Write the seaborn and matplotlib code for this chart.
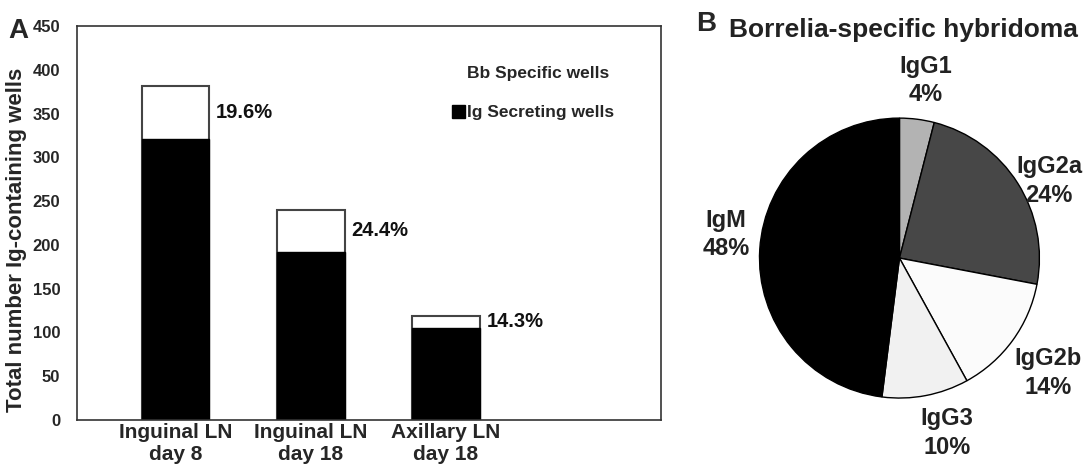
import numpy as np
import pandas as pd
import matplotlib
matplotlib.use('Agg')
import matplotlib.pyplot as plt
import matplotlib.patches as mpatches
import seaborn as sns

# Panel A data
sites = ['Inguinal LN\nday 8', 'Inguinal LN\nday 18', 'Axillary LN\nday 18']
total_wells = [382, 240, 119]
ig_wells = [321, 192, 105]
pct_labels = ['19.6%', '24.4%', '14.3%']

# Panel B data
isotypes = ['IgG1', 'IgG2a', 'IgG2b', 'IgG3', 'IgM']
isotype_pct = [4, 24, 14, 10, 48]
isotype_colors = ['#b3b3b3', '#474747', '#fbfbfb', '#f1f1f1', '#000000']

sns.set_style('white')
plt.rcParams['font.family'] = ['Liberation Sans', 'DejaVu Sans']
plt.rcParams['font.weight'] = 'bold'

df = pd.DataFrame({'site': sites, 'total': total_wells, 'ig': ig_wells})

fig = plt.figure(figsize=(10.85, 4.65), dpi=100)
ax = fig.add_axes([0.071, 0.097, 0.538, 0.847])

bw = 0.5
sns.barplot(data=df, x='site', y='total', color='white', edgecolor='#444444',
            linewidth=1.5, width=bw, saturation=1, ax=ax)
sns.barplot(data=df, x='site', y='ig', color='black', edgecolor='black',
            linewidth=1.0, width=bw, saturation=1, ax=ax)

for i, (t, g, p) in enumerate(zip(total_wells, ig_wells, pct_labels)):
    ax.text(i + bw / 2 + 0.05, (t + g) / 2, p, ha='left', va='center',
            fontsize=14.5, fontweight='bold', color='#111111')

ax.set_ylim(0, 450)
ax.set_yticks(range(0, 451, 50))
ax.set_xlim(-0.73, 3.59)
ax.set_xlabel('')
ax.set_ylabel('Total number Ig-containing wells', fontsize=16, fontweight='bold')
ax.yaxis.set_label_coords(-0.086, 0.457)
ax.tick_params(axis='both', length=0)
ax.tick_params(axis='y', labelsize=12, pad=12)
ax.tick_params(axis='x', labelsize=15, pad=2)
for lab in ax.get_xticklabels() + ax.get_yticklabels():
    lab.set_fontweight('bold')
for s in ax.spines.values():
    s.set_color('#333333')
    s.set_linewidth(1.2)

handles = [mpatches.Patch(facecolor='white', edgecolor='none', label='Bb Specific wells'),
           mpatches.Patch(facecolor='black', edgecolor='black', label='Ig Secreting wells')]
ax.legend(handles=handles, loc='upper left', bbox_to_anchor=(0.615, 0.94), frameon=False,
          prop={'size': 12.5, 'weight': 'bold'}, handlelength=0.75, handleheight=0.75,
          handletextpad=0.15, labelspacing=1.4)

fig.text(0.008, 0.933, 'A', fontsize=20, fontweight='bold', va='center')

# Panel B pie
pax = fig.add_axes([0.700, 0.144, 0.258, 0.602])
pax.pie(isotype_pct, colors=isotype_colors, startangle=90, counterclock=False,
        wedgeprops={'edgecolor': 'black', 'linewidth': 1.0})
pax.set_xlim(-1, 1)
pax.set_ylim(-1, 1)
pax.set_aspect('equal')

label_pos = {'IgG1': (0.19, 1.27), 'IgG2a': (1.07, 0.55), 'IgG2b': (1.06, -0.82),
             'IgG3': (0.34, -1.25), 'IgM': (-1.24, 0.17)}
for name, v in zip(isotypes, isotype_pct):
    x, y = label_pos[name]
    pax.text(x, y, f'{name}\n{v}%', ha='center', va='center', fontsize=17,
             fontweight='bold', linespacing=1.3, color='#222222', clip_on=False)

fig.text(0.642, 0.948, 'B', fontsize=20, fontweight='bold', va='center')
fig.text(0.672, 0.935, 'Borrelia-specific hybridoma', fontsize=19, fontweight='bold',
         va='center', color='#222222')

fig.savefig('out.png', dpi=100)
